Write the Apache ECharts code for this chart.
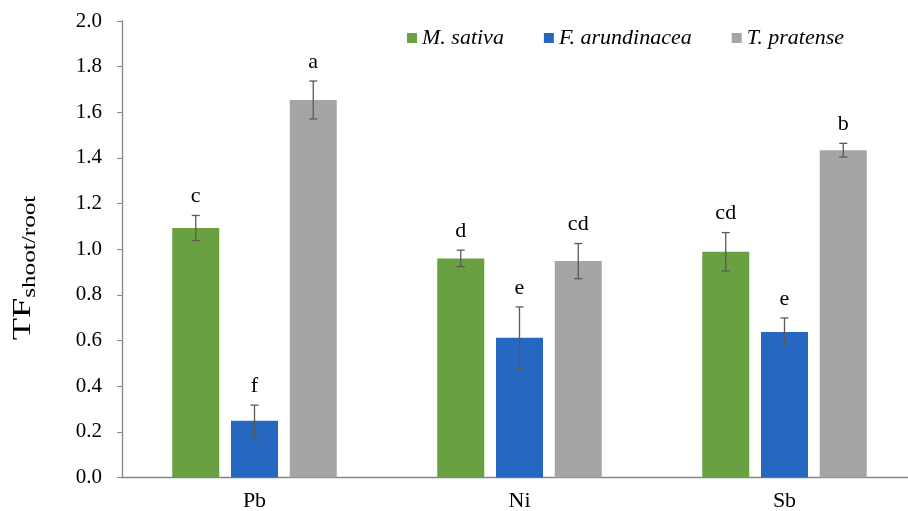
<!DOCTYPE html>
<html><head><meta charset="utf-8">
<script src="https://cdn.jsdelivr.net/npm/echarts@6/dist/echarts.min.js"></script>
<style>html,body{margin:0;padding:0;background:#fff}#c{width:908px;height:511px}</style>
</head><body><div id="c"></div>
<script>
const categories = ['Pb', 'Ni', 'Sb'];
const seriesNames = ['M. sativa', 'F. arundinacea', 'T. pratense'];
const msativa = [1.093, 0.960, 0.989];
const farund = [0.249, 0.612, 0.638];
const tpratense = [1.654, 0.948, 1.434];
const msativaErr = [0.055, 0.036, 0.084];
const farundErr = [0.068, 0.135, 0.061];
const tpratenseErr = [0.083, 0.077, 0.030];
const msativaLetters = ['c', 'd', 'cd'];
const farundLetters = ['f', 'e', 'e'];
const tpratenseLetters = ['a', 'cd', 'b'];
const yTicks = [0, 0.2, 0.4, 0.6, 0.8, 1.0, 1.2, 1.4, 1.6, 1.8, 2.0];

const colors = ['#69a042', '#2667c1', '#a5a5a5'];
const values = [msativa, farund, tpratense];
const errs = [msativaErr, farundErr, tpratenseErr];
const letters = [msativaLetters, farundLetters, tpratenseLetters];
const FONT = '"Liberation Serif", "Times New Roman", serif';
const BAR_W = 47, BAR_GAP = 11.75;

const chart = echarts.init(document.getElementById('c'));
const series = [];
values.forEach((vals, i) => {
  series.push({
    name: seriesNames[i], type: 'bar', data: vals, barWidth: BAR_W, barGap: '25%',
    itemStyle: { color: colors[i] }, z: 2
  });
});
values.forEach((vals, i) => {
  series.push({
    type: 'custom', silent: true, z: 5,
    data: vals.map((v, k) => [k, v, errs[i][k], letters[i][k]]),
    renderItem: function (params, api) {
      const k = api.value(0), v = api.value(1), e = api.value(2);
      const off = (i - 1) * (BAR_W + BAR_GAP);
      const top = api.coord([k, v + e]);
      const bot = api.coord([k, v - e]);
      const x = top[0] + off;
      const st = { stroke: '#595959', lineWidth: 1.3 };
      return { type: 'group', children: [
        { type: 'line', shape: { x1: x, y1: top[1], x2: x, y2: bot[1] }, style: st },
        { type: 'line', shape: { x1: x - 4, y1: top[1], x2: x + 4, y2: top[1] }, style: st },
        { type: 'line', shape: { x1: x - 4, y1: bot[1], x2: x + 4, y2: bot[1] }, style: st },
        { type: 'text', x: x, y: top[1] - 8, style: { text: letters[i][k], fontFamily: FONT, fontSize: 22, fill: '#000', align: 'center', verticalAlign: 'bottom' } }
      ]};
    }
  });
});

chart.setOption({
  animation: false,
  legend: {
    data: seriesNames, left: 407, top: 27, itemWidth: 10, itemHeight: 10, itemGap: 40,
    icon: 'rect', padding: 0,
    textStyle: { fontFamily: FONT, fontSize: 22, fontStyle: 'italic', color: '#000' }
  },
  grid: { left: 122, top: 21, width: 795, height: 456.5, containLabel: false, outerBoundsMode: 'none' },
  xAxis: {
    type: 'category', data: categories,
    axisLine: { lineStyle: { color: '#868686', width: 1.3 } },
    axisTick: { show: false },
    axisLabel: { fontFamily: FONT, fontSize: 22, color: '#000', margin: 13 }
  },
  yAxis: {
    type: 'value', min: 0, max: 2, interval: 0.2,
    splitLine: { show: false },
    axisLine: { show: true, lineStyle: { color: '#868686', width: 1.3 } },
    axisTick: { show: true, length: 5, lineStyle: { color: '#868686' } },
    axisLabel: { fontFamily: FONT, fontSize: 21, color: '#000', margin: 20,
      formatter: v => { const t = yTicks.find(x => Math.abs(x - v) < 1e-6); return (t !== undefined ? t : v).toFixed(1); } }
  },
  graphic: [{
    type: 'text', x: 23, y: 268, rotation: Math.PI / 2, scaleX: 1.4,
    style: {
      text: '{a|TF}{b|shoot/root}', align: 'center', verticalAlign: 'middle',
      rich: {
        a: { fontFamily: FONT, fontSize: 26, fill: '#000', lineHeight: 32, verticalAlign: 'middle' },
        b: { fontFamily: FONT, fontSize: 18, fill: '#000', lineHeight: 32, verticalAlign: 'bottom' }
      }
    }
  }],
  series: series
});
</script></body></html>
